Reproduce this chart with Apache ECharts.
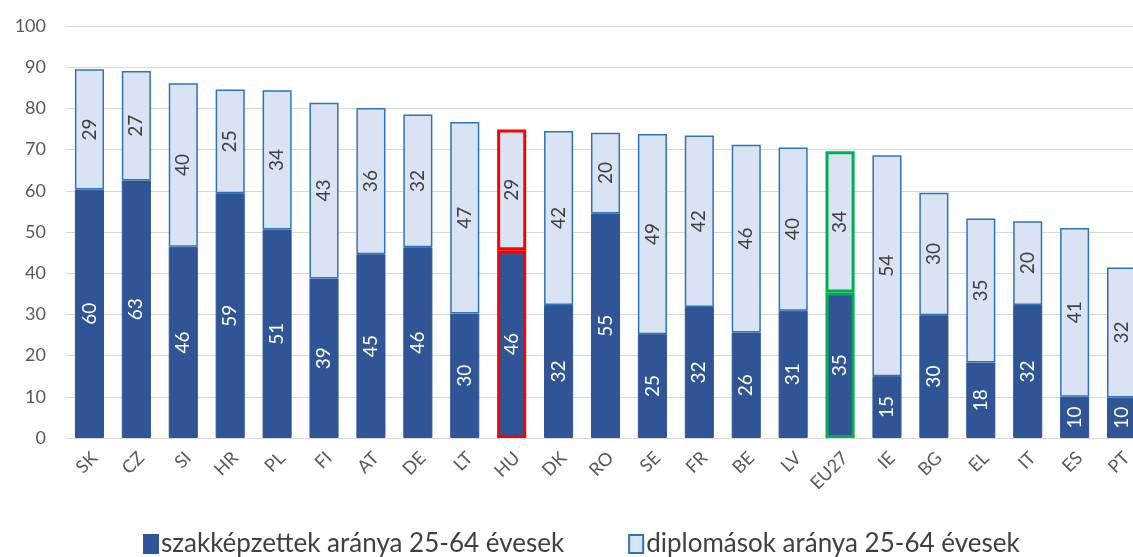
<!DOCTYPE html>
<html><head><meta charset="utf-8">
<script src="https://cdn.jsdelivr.net/npm/echarts@6/dist/echarts.min.js"></script>
<style>html,body{margin:0;padding:0;background:#fff}#c{width:1133px;height:557px}</style>
</head><body><div id="c"></div>
<script>
const categories = ['SK','CZ','SI','HR','PL','FI','AT','DE','LT','HU','DK','RO','SE','FR','BE','LV','EU27','IE','BG','EL','IT','ES','PT'];
const vocational = [60.3,62.5,46.4,59.4,50.6,38.7,44.6,46.3,30.2,45.6,32.3,54.5,25.2,31.8,25.6,30.9,35.3,15.0,29.8,18.3,32.3,10.0,9.8];
const graduates = [29.2,26.6,39.7,25.2,33.8,42.7,35.5,32.2,46.5,29.3,42.2,19.6,48.6,41.6,45.6,39.6,34.3,53.6,29.7,35.0,20.3,41.0,31.6];
const seriesNames = ['szakképzettek aránya 25-64 évesek','diplomások aránya 25-64 évesek'];
const yTicks = [0,10,20,30,40,50,60,70,80,90,100];
const highlight = {HU:'#FF0000', EU27:'#00B050'};

const font = 'Lato, "Open Sans", sans-serif';
function mk(vals){
  return vals.map((v,i)=>{
    const c = highlight[categories[i]];
    const it = {value:v};
    if(c) it.itemStyle = {borderColor:c, borderWidth:3};
    return it;
  });
}
const chart = echarts.init(document.getElementById('c'));
chart.setOption({
  animation:false,
  grid:{left:66, top:26, right:-12, height:412, containLabel:false, outerBoundsMode:'none'},
  xAxis:{type:'category', data:categories,
    axisLine:{lineStyle:{color:'#D9D9D9', width:1}}, axisTick:{show:false},
    axisLabel:{show:false}},
  yAxis:{type:'value', min:0, max:100, interval:10,
    axisLine:{show:false}, axisTick:{show:false},
    splitLine:{lineStyle:{color:'#D9D9D9', width:1}},
    axisLabel:{color:'#595959', fontSize:18, fontFamily:font, margin:20,
      formatter:v=>yTicks.includes(v)?String(v):''}},
  legend:{top:526, left:138, itemGap:64, itemWidth:14, itemHeight:18, icon:'rect',
    textStyle:{color:'#404040', fontSize:26, fontFamily:font, padding:[0,0,0,-2]},
    data:seriesNames},
  series:[
    {name:seriesNames[0], type:'bar', stack:'a', barWidth:'62%', data:mk(vocational),
      itemStyle:{color:'#2F5597', borderColor:'#2F5597', borderWidth:1},
      label:{show:true, position:'inside', rotate:90, color:'#FFFFFF', fontSize:19, fontFamily:font,
        formatter:p=>Math.round(p.value)}},
    {name:seriesNames[1], type:'bar', stack:'a', barWidth:'62%', data:mk(graduates),
      itemStyle:{color:'#DAE3F3', borderColor:'#2E75B6', borderWidth:1.5},
      label:{show:true, position:'inside', rotate:90, color:'#404040', fontSize:19, fontFamily:font,
        formatter:p=>Math.round(p.value)}},
    {name:'xlabels', type:'custom', silent:true, clip:false, z:10,
      data:categories.map((c,i)=>[i,0]),
      encode:{x:0, y:1},
      renderItem:(params, api)=>{
        const p = api.coord([api.value(0), 0]);
        return {type:'text', x:p[0]+5, y:p[1]+17, rotation:Math.PI/4,
          style:{text:categories[params.dataIndex], align:'right', verticalAlign:'middle',
            fill:'#595959', font:'18px ' + font}};
      }}
  ]
});
</script></body></html>
